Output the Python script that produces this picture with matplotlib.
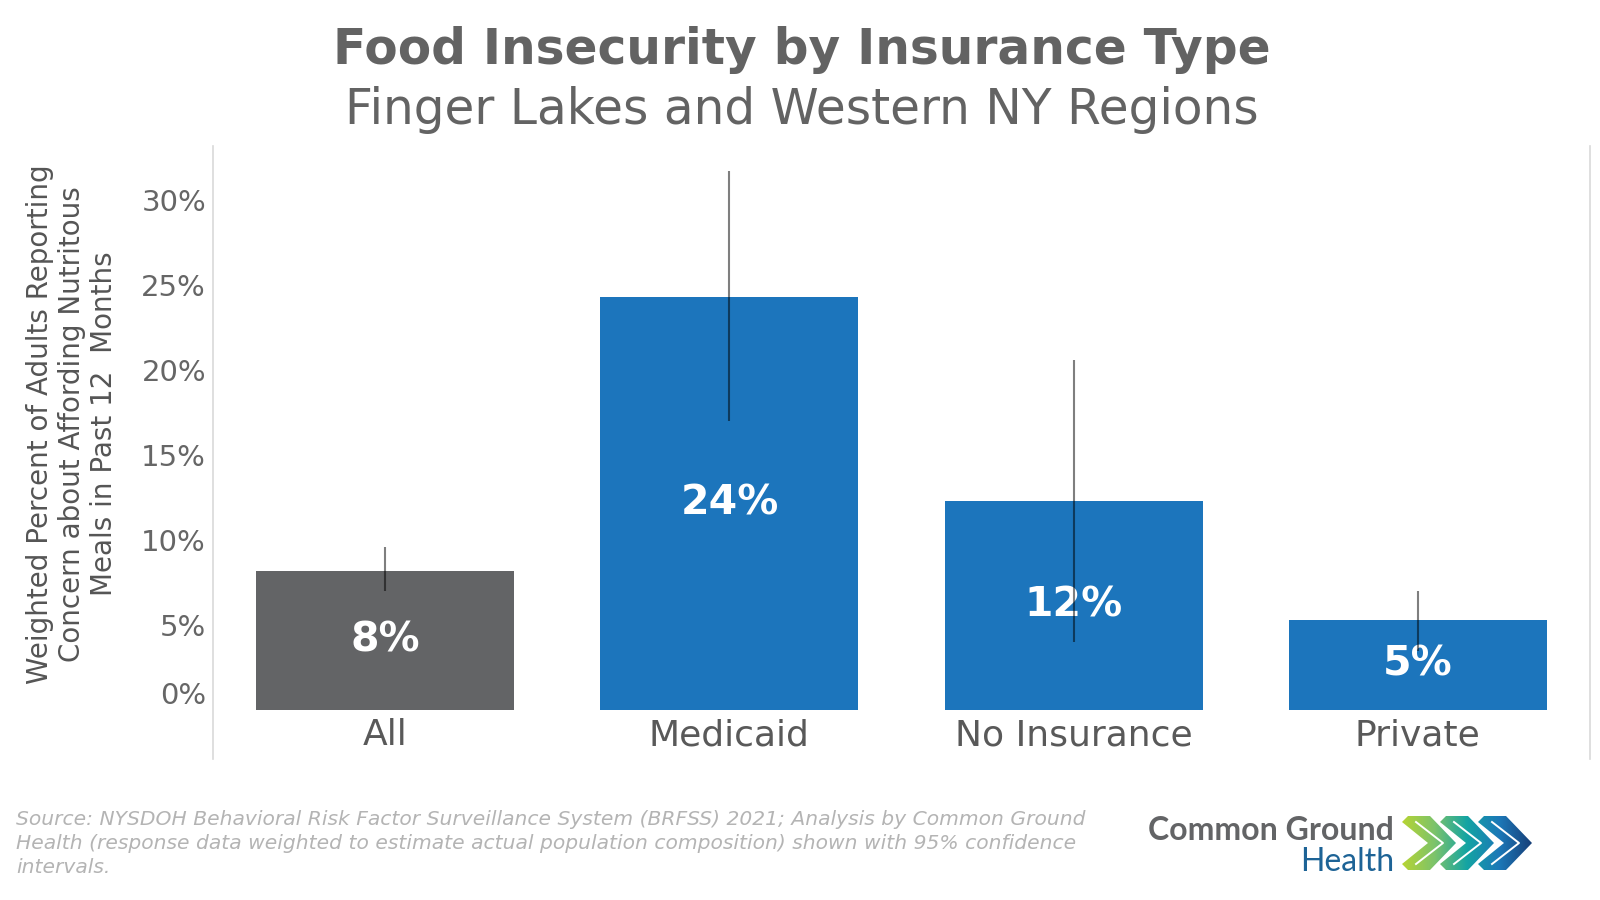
import numpy as np
import matplotlib
matplotlib.use("Agg")
import matplotlib.pyplot as plt
from matplotlib.lines import Line2D
from matplotlib.path import Path
from matplotlib.patches import PathPatch
from matplotlib.colors import LinearSegmentedColormap

# data
categories = ["All", "Medicaid", "No Insurance", "Private"]
values = [8.2, 24.3, 12.3, 5.3]
ci_low = [7.0, 17.0, 4.0, 3.5]
ci_high = [9.6, 31.7, 20.6, 7.0]
bar_colors = ["#636466", "#1c75bc", "#1c75bc", "#1c75bc"]
yticks = [0, 5, 10, 15, 20, 25, 30]

W, H = 1600, 900
fig = plt.figure(figsize=(16, 9), dpi=100)

# main axes (pixel layout from reference)
ax_left, ax_right = 213, 1590
y_zero, y_top = 710, 146
ax = fig.add_axes([ax_left / W, (H - y_zero) / H,
                   (ax_right - ax_left) / W, (y_zero - y_top) / H])
x = np.arange(len(categories))
ax.bar(x, values, width=0.75, color=bar_colors, zorder=2)
ax.vlines(x, ci_low, ci_high, color="black", alpha=0.5, lw=1.5, zorder=4)

for xi, v in zip(x, values):
    ax.text(xi, v / 2, f"{round(v)}%", ha="center", va="center",
            color="white", fontsize=29.5, fontweight="bold", zorder=3)

ax.set_xlim(-0.5, 3.5)
ax.set_ylim(0, 33.2)
ax.set_yticks(yticks)
ax.set_yticklabels([f"{t}%" for t in yticks])
ax.set_xticks(x)
ax.set_xticklabels(categories)
ax.tick_params(axis="y", length=0, pad=5, labelsize=21, labelcolor="#666666")
ax.tick_params(axis="x", length=0, pad=6, labelsize=26, labelcolor="#595959")
ax.get_yticklabels()[0].set_verticalalignment("bottom")
for s in ax.spines.values():
    s.set_visible(False)

# light vertical frame lines
for px in (ax_left, ax_right):
    fig.add_artist(Line2D([px / W, px / W], [1 - 146 / H, 1 - 759 / H],
                          color="#d9d9d9", lw=1.2))

# titles
fig.text(802 / W, 1 - 50 / H, "Food Insecurity by Insurance Type",
         ha="center", va="center", fontsize=35, fontweight="bold", color="#636363")
fig.text(802 / W, 1 - 110 / H, "Finger Lakes and Western NY Regions",
         ha="center", va="center", fontsize=35, color="#636363")

# y label
fig.text(72 / W, 1 - 424 / H,
         "Weighted Percent of Adults Reporting\nConcern about Affording Nutritous\nMeals in Past 12  Months",
         rotation=90, ha="center", va="center", multialignment="center",
         fontsize=20, color="#555555", linespacing=1.2)

# source note
fig.text(16 / W, 1 - 810 / H,
         "Source: NYSDOH Behavioral Risk Factor Surveillance System (BRFSS) 2021; Analysis by Common Ground\n"
         "Health (response data weighted to estimate actual population composition) shown with 95% confidence\n"
         "intervals.",
         ha="left", va="top", fontsize=14.6, style="italic", color="#b4b4b4",
         linespacing=1.32)

# logo
lax = fig.add_axes([0, 0, 1, 1], zorder=5)
lax.set_xlim(0, W)
lax.set_ylim(H, 0)
lax.axis("off")
lax.text(1394, 831, "Common Ground", ha="right", va="center",
         fontsize=23, fontweight="bold", family="Lato", color="#636466")
lax.text(1394, 862, "Health", ha="right", va="center",
         fontsize=23, family="Lato", color="#1d6396")

top, bot = 816, 870
mid = (top + bot) / 2
cw, ct, bev, step, x0 = 54, 28, 6, 38, 1402
paths = []
for i in range(3):
    L = x0 + step * i
    verts = [(L, top + bev), (L + bev, top), (L + ct, top), (L + cw, mid),
             (L + ct, bot), (L + bev, bot), (L, bot - bev),
             (L + cw - ct, mid), (L, top + bev)]
    codes = [Path.MOVETO] + [Path.LINETO] * 7 + [Path.CLOSEPOLY]
    paths.append(Path(verts, codes))
clip = PathPatch(Path.make_compound_path(*paths), facecolor="none",
                 edgecolor="none", transform=lax.transData)
lax.add_patch(clip)
grad = LinearSegmentedColormap.from_list(
    "logo", ["#b7d433", "#7cc36b", "#14a4a3", "#1c78b8", "#173f78"])
img = lax.imshow(np.linspace(0, 1, 256)[None, :], cmap=grad, aspect="auto",
                 extent=(x0, x0 + 2 * step + cw, bot, top), zorder=1)
img.set_clip_path(clip)
for i in range(3):
    L = x0 + step * i
    lax.plot([L + ct / 2, L + cw - ct / 2 + 1, L + ct / 2],
             [top + 6, mid, bot - 6], color="white", lw=1.4, zorder=2)
lax.set_xlim(0, W)
lax.set_ylim(H, 0)

fig.savefig("out.png", dpi=100, facecolor="white")
